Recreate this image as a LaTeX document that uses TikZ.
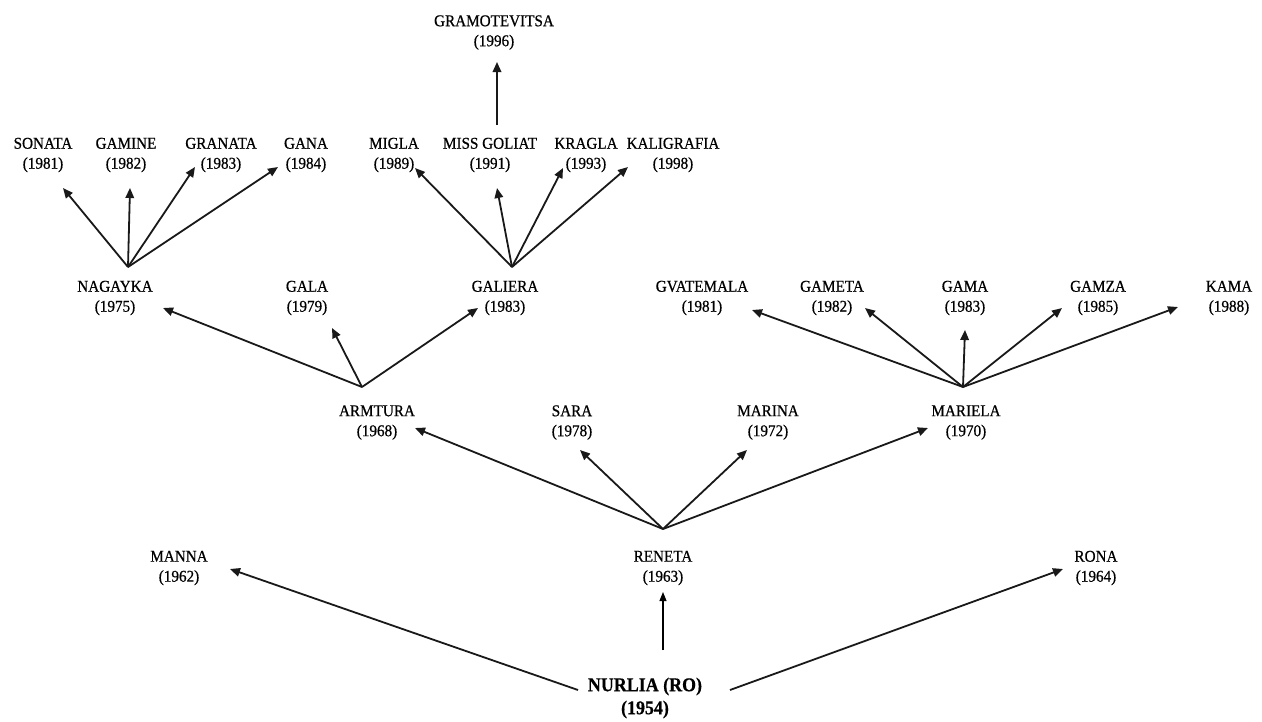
\documentclass[tikz,border=0pt]{standalone}
\usepackage{fontspec}
\setmainfont{Liberation Serif}[FakeStretch=0.92,FakeBold=0.6]
\usetikzlibrary{arrows.meta}
\begin{document}
\begin{tikzpicture}[x=1pt,y=-1pt,
  lbl/.style={align=center,inner sep=0pt,font=\fontsize{16.5}{20}\selectfont},
  rootlbl/.style={align=center,inner sep=0pt,font=\bfseries\fontsize{19.5}{23}\selectfont},
  arr/.style={draw=black!90,line width=1.8pt,-{Triangle[length=10pt,width=8.5pt]}},
  thinarr/.style={draw=black,line width=1.1pt,-{Triangle[length=9pt,width=7pt]}}]
\useasboundingbox[fill=white] (0,0) rectangle (1262,721);

% ---- nodes ----
\node[lbl] (gramo) at (494,32.5) {GRAMOTEVITSA\\(1996)};
\node[lbl] (sonata) at (43,155) {SONATA\\(1981)};
\node[lbl] (gamine) at (126,155) {GAMINE\\(1982)};
\node[lbl] (granata) at (221,155) {GRANATA\\(1983)};
\node[lbl] (gana) at (306,155) {GANA\\(1984)};
\node[lbl] (migla) at (394,155) {MIGLA\\(1989)};
\node[lbl] (missgoliat) at (490,155) {MISS GOLIAT\\(1991)};
\node[lbl] (kragla) at (586,155) {KRAGLA\\(1993)};
\node[lbl] (kaligrafia) at (673,155) {KALIGRAFIA\\(1998)};
\node[lbl] (nagayka) at (115,298) {NAGAYKA\\(1975)};
\node[lbl] (gala) at (307,298) {GALA\\(1979)};
\node[lbl] (galiera) at (505,298) {GALIERA\\(1983)};
\node[lbl] (gvatemala) at (702,298) {GVATEMALA\\(1981)};
\node[lbl] (gameta) at (832,298) {GAMETA\\(1982)};
\node[lbl] (gama) at (965,298) {GAMA\\(1983)};
\node[lbl] (gamza) at (1098,298) {GAMZA\\(1985)};
\node[lbl] (kama) at (1229,298) {KAMA\\(1988)};
\node[lbl] (armtura) at (377,422.5) {ARMTURA\\(1968)};
\node[lbl] (sara) at (572,422.5) {SARA\\(1978)};
\node[lbl] (marina) at (768,422.5) {MARINA\\(1972)};
\node[lbl] (mariela) at (966,422.5) {MARIELA\\(1970)};
\node[lbl] (manna) at (179,568) {MANNA\\(1962)};
\node[lbl] (reneta) at (663,568) {RENETA\\(1963)};
\node[lbl] (rona) at (1096,568) {RONA\\(1964)};
\node[rootlbl] (nurlia) at (645,698) {NURLIA (RO)\\(1954)};

% ---- fan origins ----
\coordinate (nagayka-o) at (128,267);
\coordinate (galiera-o) at (512,267);
\coordinate (missgoliat-o) at (497,125);
\coordinate (armtura-o) at (362,387);
\coordinate (mariela-o) at (963,387);
\coordinate (reneta-o) at (663,529);
\coordinate (nurlia-l) at (578,690);
\coordinate (nurlia-r) at (730,690);
\coordinate (nurlia-t) at (663,650);

% ---- arrow tips ----
\coordinate (sonata-t) at (63,188);
\coordinate (gamine-t) at (130,188);
\coordinate (granata-t) at (195,167);
\coordinate (gana-t) at (278,167);
\coordinate (migla-t) at (415,168);
\coordinate (missgoliat-t) at (497,188);
\coordinate (kragla-t) at (563,168);
\coordinate (kaligrafia-t) at (628,167);
\coordinate (gramo-t) at (497,62);
\coordinate (nagayka-t) at (163,308);
\coordinate (gala-t) at (332,328);
\coordinate (galiera-t) at (478,308);
\coordinate (gvatemala-t) at (752,310);
\coordinate (gameta-t) at (865,308);
\coordinate (gama-t) at (965,330);
\coordinate (gamza-t) at (1062,308);
\coordinate (kama-t) at (1178,307);
\coordinate (armtura-t) at (415,428);
\coordinate (sara-t) at (580,450);
\coordinate (marina-t) at (747,450);
\coordinate (mariela-t) at (928,428);
\coordinate (manna-t) at (230,569);
\coordinate (reneta-t) at (663,592);
\coordinate (rona-t) at (1063,569);

% ---- connectors ----
\foreach \c in {sonata,gamine,granata,gana}
  \draw[arr] (nagayka-o) -- (\c-t);
\foreach \c in {migla,missgoliat,kragla,kaligrafia}
  \draw[arr] (galiera-o) -- (\c-t);
\draw[arr] (missgoliat-o) -- (gramo-t);
\foreach \c in {nagayka,gala,galiera}
  \draw[arr] (armtura-o) -- (\c-t);
\foreach \c in {gvatemala,gameta,gama,gamza,kama}
  \draw[arr] (mariela-o) -- (\c-t);
\foreach \c in {armtura,sara,marina,mariela}
  \draw[arr] (reneta-o) -- (\c-t);
\draw[arr] (nurlia-l) -- (manna-t);
\draw[arr] (nurlia-r) -- (rona-t);
\draw[thinarr] (nurlia-t) -- (reneta-t);
\end{tikzpicture}
\end{document}
